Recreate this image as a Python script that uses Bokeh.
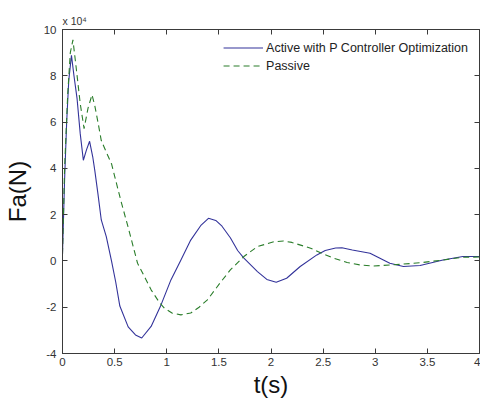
from bokeh.plotting import figure
from bokeh.models import (Range1d, FixedTicker, LinearAxis, CustomJSTickFormatter,
                          Legend, LegendItem)
from bokeh.embed import file_html
from bokeh.resources import INLINE

# ---- data (force in units of 1e4 N) ----
t_active = [0.0, 0.02, 0.04, 0.06, 0.086, 0.11, 0.14, 0.17, 0.2, 0.23, 0.26, 0.29,
            0.31, 0.34, 0.372, 0.42, 0.47, 0.51, 0.55, 0.63, 0.70, 0.76, 0.85, 0.945,
            1.04, 1.136, 1.23, 1.33, 1.40, 1.47, 1.53, 1.61, 1.68, 1.74, 1.87, 1.96,
            2.05, 2.15, 2.28, 2.44, 2.52, 2.62, 2.68, 2.78, 2.95, 3.14, 3.27, 3.43,
            3.65, 3.84, 4.0]
f_active = [0.3, 3.5, 6.0, 7.8, 8.88, 8.0, 7.0, 5.5, 4.35, 4.8, 5.17, 4.5,
            3.9, 2.9, 1.77, 1.05, 0.0, -0.9, -1.95, -2.85, -3.2, -3.33, -2.83, -1.9,
            -0.82, 0.04, 0.9, 1.55, 1.84, 1.75, 1.5, 1.0, 0.45, 0.12, -0.46, -0.8,
            -0.92, -0.75, -0.24, 0.26, 0.45, 0.56, 0.57, 0.47, 0.33, -0.1, -0.24, -0.2,
            0.04, 0.19, 0.19]

t_passive = [0.0, 0.02, 0.05, 0.075, 0.10, 0.13, 0.17, 0.207, 0.245, 0.283, 0.31, 0.34,
             0.372, 0.42, 0.47, 0.515, 0.56, 0.63, 0.72, 0.80, 0.85, 0.93, 0.977, 1.05,
             1.136, 1.23, 1.31, 1.39, 1.52, 1.61, 1.74, 1.87, 2.03, 2.12, 2.2, 2.38,
             2.5, 2.6, 2.73, 2.85, 2.98, 3.17, 3.43, 3.65, 3.84, 4.0]
f_passive = [0.3, 4.0, 7.2, 9.0, 9.55, 8.4, 6.8, 5.72, 6.6, 7.18, 6.7, 6.0,
             5.2, 4.7, 4.2, 3.4, 2.6, 1.45, -0.1, -0.8, -1.25, -1.8, -2.04, -2.25,
             -2.33, -2.25, -2.0, -1.68, -0.9, -0.39, 0.19, 0.62, 0.83, 0.86, 0.8, 0.55,
             0.3, 0.12, -0.07, -0.17, -0.22, -0.17, -0.08, 0.04, 0.16, 0.17]

x_ticks = [0, 0.5, 1, 1.5, 2, 2.5, 3, 3.5, 4]
y_ticks = [-4, -2, 0, 2, 4, 6, 8, 10]

series_labels = ["Active with P Controller Optimization", "Passive"]
x_label = "t(s)"
y_label = "Fa(N)"
exp_label = "x 10\u2074"

FONT = "Liberation Sans"
AX = "#3a3a3a"

p = figure(width=480, height=403, output_backend="svg", toolbar_location=None,
           x_range=Range1d(0, 4), y_range=Range1d(-4, 10),
           min_border_left=61, min_border_right=1, min_border_top=29, min_border_bottom=50)
p.background_fill_color = "white"
p.border_fill_color = "white"
p.outline_line_color = AX
p.outline_line_width = 1
p.xgrid.visible = False
p.ygrid.visible = False

fmt = CustomJSTickFormatter(code="return tick.toString();")
blank_fmt = CustomJSTickFormatter(code="return '';")

def style_axis(ax, ticks, show_labels):
    ax.ticker = FixedTicker(ticks=ticks)
    ax.major_tick_in = 5
    ax.major_tick_out = 0
    ax.minor_tick_line_color = None
    ax.axis_line_color = AX
    ax.major_tick_line_color = AX
    ax.major_label_text_font = FONT
    ax.major_label_text_color = "#333333"
    if show_labels:
        ax.formatter = fmt
        ax.major_label_text_font_size = "11.5px"
        ax.major_label_standoff = 4
    else:
        ax.formatter = blank_fmt
        ax.major_label_text_font_size = "1px"
        ax.major_label_standoff = 0

style_axis(p.xaxis[0], x_ticks, True)
style_axis(p.yaxis[0], y_ticks, True)
p.yaxis[0].major_label_standoff = 6

p.xaxis[0].axis_label = x_label
p.xaxis[0].axis_label_text_font = FONT
p.xaxis[0].axis_label_text_font_size = "24px"
p.xaxis[0].axis_label_text_font_style = "normal"
p.xaxis[0].axis_label_text_color = "#111111"
p.xaxis[0].axis_label_standoff = 2

p.yaxis[0].axis_label = y_label
p.yaxis[0].axis_label_text_font = FONT
p.yaxis[0].axis_label_text_font_size = "24px"
p.yaxis[0].axis_label_text_font_style = "normal"
p.yaxis[0].axis_label_text_color = "#111111"
p.yaxis[0].axis_label_standoff = 10

top_ax = LinearAxis()
style_axis(top_ax, x_ticks, False)
p.add_layout(top_ax, "above")
right_ax = LinearAxis()
style_axis(right_ax, y_ticks, False)
p.add_layout(right_ax, "right")

p.title.text = exp_label
p.title.align = "left"
p.title.text_font = FONT
p.title.text_font_size = "10.5px"
p.title.text_font_style = "normal"
p.title.text_color = "#333333"
p.title.standoff = 5
p.title.offset = 0

r_active = p.line(t_active, f_active, line_color="#33339a", line_width=1.1)
r_passive = p.line(t_passive, f_passive, line_color="#2a7d2a", line_width=1.1,
                   line_dash="6 4")

legend = Legend(items=[LegendItem(label=series_labels[0], renderers=[r_active]),
                       LegendItem(label=series_labels[1], renderers=[r_passive])],
                location="top_right")
legend.margin = 7
legend.padding = 4
legend.spacing = 3
legend.label_height = 15
legend.glyph_height = 15
legend.glyph_width = 40
legend.label_standoff = 3
legend.label_text_font = FONT
legend.label_text_font_size = "12.5px"
legend.label_text_color = "#222222"
legend.border_line_alpha = 0
legend.background_fill_color = "white"
legend.background_fill_alpha = 1
p.add_layout(legend)

open("out.html", "w").write(file_html(p, INLINE))
